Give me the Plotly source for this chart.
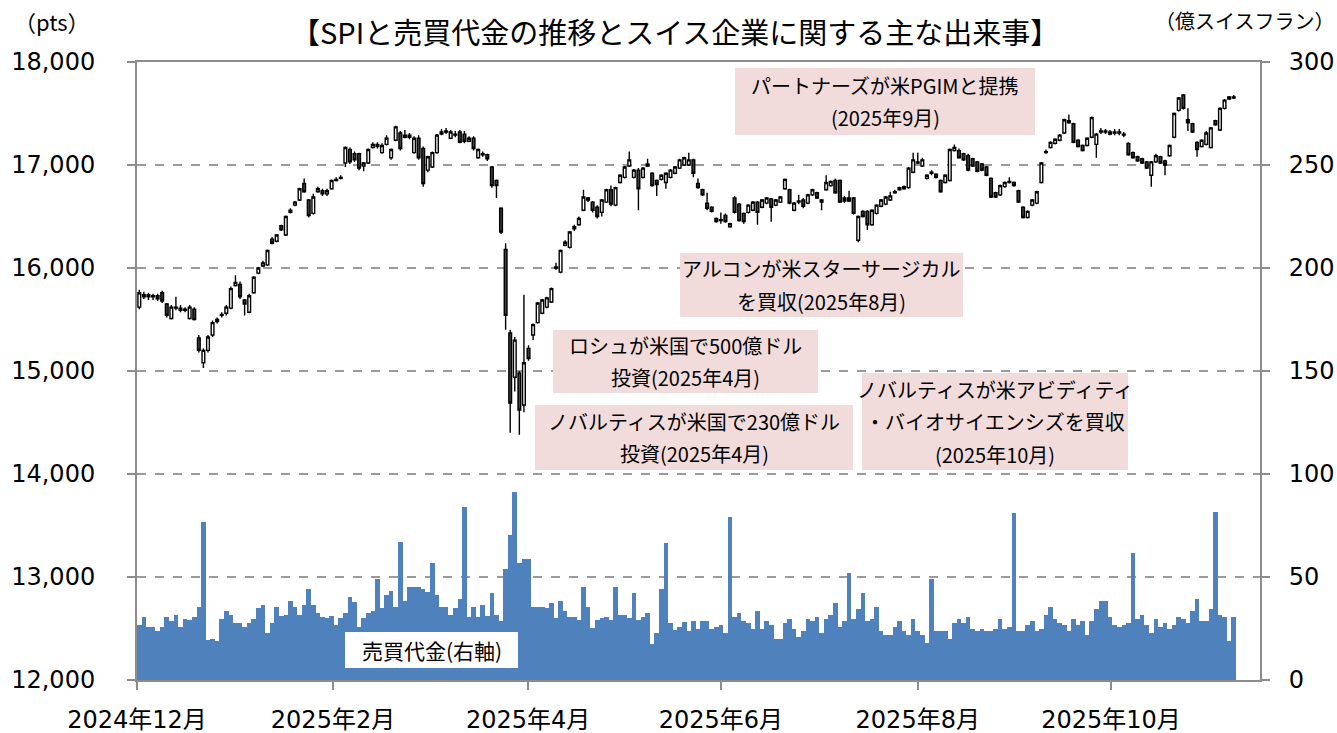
import plotly.graph_objects as go

# ---------------- data ----------------
opens = [
    15620,15720,15740,15720,15730,15760,15650,15510,15610,15610,
    15590,15510,15600,15320,15080,15200,15350,15480,15540,15560,
    15610,15830,15840,15690,15570,15760,15950,16020,16030,16280,
    16260,16410,16320,16540,16610,16660,16820,16660,16530,16740,
    16750,16720,16770,16850,16870,17020,17150,17110,17110,16990,
    17020,17170,17200,17120,17200,17070,17240,17310,17270,17290,
    17120,17260,17160,16950,16980,17120,17300,17320,17260,17300,
    17320,17300,17230,17260,17070,17110,17100,16980,16850,16580,
    16180,15370,14940,14980,14670,15220,15350,15470,15560,15620,
    15670,16000,15960,16220,16200,16380,16420,16560,16680,16640,
    16590,16540,16640,16760,16610,16830,16880,16990,16880,16950,
    16880,16990,16920,16850,16860,16830,16880,16920,16970,17000,
    17000,17050,16820,16760,16630,16590,16480,16470,16510,16400,
    16680,16620,16530,16540,16560,16640,16590,16630,16670,16610,
    16640,16770,16760,16560,16640,16660,16630,16710,16730,16660,
    16760,16800,16850,16850,16680,16680,16680,16270,16550,16550,
    16420,16530,16600,16620,16660,16730,16760,16770,16780,16930,
    17020,16990,16870,16920,16910,16850,16830,16850,17140,17140,
    17110,17090,17060,17030,17010,16980,16870,16730,16710,16790,
    16830,16830,16750,16590,16490,16610,16630,16830,17120,17170,
    17210,17240,17310,17410,17400,17240,17190,17190,17270,17200,
    17320,17330,17300,17320,17310,17300,17210,17120,17080,17060,
    17030,16900,17030,17080,17040,17090,17270,17530,17680,17440,
    17400,17220,17180,17200,17170,17430,17340,17550,17640,17650,
]
highs = [
    15790,15770,15760,15750,15750,15780,15660,15640,15720,15640,
    15620,15640,15620,15350,15220,15350,15490,15520,15570,15640,
    15820,15930,15870,15700,15750,15920,16010,16070,16180,16300,
    16330,16420,16510,16580,16650,16780,16870,16670,16720,16790,
    16770,16770,16860,16880,16900,17180,17170,17130,17120,17030,
    17160,17220,17220,17210,17290,17160,17380,17330,17340,17310,
    17280,17290,17180,17090,17130,17300,17350,17360,17340,17330,
    17340,17330,17280,17280,17160,17130,17110,16990,16860,16590,
    16240,15400,15330,15000,15740,15250,15460,15670,15700,15720,
    15810,16050,16180,16270,16360,16420,16500,16760,16690,16650,
    16610,16670,16770,16800,16790,16910,16990,17130,16960,16970,
    16980,17060,16930,16860,16910,16930,16960,16990,17060,17080,
    17120,17060,16870,16770,16730,16600,16490,16540,16530,16440,
    16700,16630,16540,16620,16650,16650,16670,16690,16680,16670,
    16700,16870,16770,16640,16710,16680,16720,16770,16740,16670,
    16900,16850,16870,16860,16700,16750,16690,16510,16560,16560,
    16570,16620,16670,16700,16740,16760,16790,16800,16980,17120,
    17120,17070,16910,16950,16920,16860,16910,17160,17200,17160,
    17120,17110,17070,17040,17020,16990,16880,16740,16810,16840,
    16880,16840,16760,16600,16560,16670,16750,17030,17150,17230,
    17260,17300,17450,17490,17410,17250,17200,17270,17470,17310,
    17360,17350,17340,17350,17350,17320,17220,17130,17090,17070,
    17040,17040,17110,17090,17050,17200,17510,17660,17690,17550,
    17410,17230,17250,17330,17370,17440,17560,17640,17670,17680,
]
lows = [
    15600,15700,15690,15690,15680,15660,15520,15500,15590,15570,
    15570,15500,15490,15180,15030,15180,15330,15460,15520,15540,
    15600,15820,15700,15540,15560,15750,15940,16010,16020,16230,
    16250,16360,16310,16530,16600,16650,16730,16490,16520,16730,
    16700,16700,16760,16840,16860,16980,17010,17030,16950,16940,
    17010,17160,17160,17110,17190,17050,17230,17140,17260,17250,
    17110,17050,16790,16930,16970,17110,17290,17300,17250,17270,
    17210,17210,17220,17140,17060,17080,17040,16780,16680,16330,
    15400,14400,14800,14380,14600,15100,15300,15460,15550,15610,
    15660,15980,15950,16210,16190,16360,16410,16550,16640,16540,
    16480,16500,16630,16600,16600,16820,16870,16980,16870,16560,
    16870,16980,16790,16700,16850,16770,16870,16910,16960,16990,
    16990,16880,16770,16700,16560,16540,16440,16430,16440,16390,
    16530,16450,16430,16530,16550,16420,16580,16620,16450,16600,
    16630,16760,16620,16550,16620,16580,16620,16700,16670,16560,
    16750,16790,16720,16630,16630,16640,16520,16250,16490,16370,
    16410,16520,16590,16610,16650,16720,16750,16760,16770,16920,
    17010,16980,16860,16900,16870,16730,16820,16840,17130,17060,
    17040,16940,16980,16930,16940,16890,16680,16680,16700,16780,
    16820,16790,16630,16480,16480,16600,16620,16820,17110,17160,
    17200,17230,17300,17400,17210,17170,17130,17180,17260,17070,
    17300,17300,17290,17290,17290,17270,17090,17060,17030,17010,
    16960,16790,17020,17010,16900,17080,17260,17520,17540,17330,
    17310,17080,17170,17190,17160,17380,17330,17540,17630,17640,
]
closes = [
    15760,15740,15720,15730,15700,15680,15540,15620,15620,15590,
    15600,15620,15500,15200,15200,15330,15470,15500,15550,15620,
    15800,15860,15720,15650,15730,15910,16000,16050,16170,16240,
    16320,16370,16500,16560,16640,16770,16740,16510,16690,16770,
    16720,16750,16850,16860,16880,17170,17030,17050,16970,17020,
    17150,17200,17180,17190,17260,17150,17370,17160,17290,17270,
    17260,17070,16820,17080,17120,17290,17320,17330,17320,17290,
    17220,17230,17260,17160,17150,17100,17060,16800,16800,16350,
    15540,14690,15300,14620,15080,15120,15450,15660,15690,15710,
    15800,16010,16170,16250,16350,16400,16480,16690,16660,16560,
    16500,16660,16760,16620,16780,16900,16980,17050,16950,16770,
    16970,17010,16800,16810,16900,16920,16950,16980,17050,17070,
    17050,16920,16780,16710,16580,16550,16450,16460,16450,16430,
    16540,16460,16450,16610,16640,16540,16660,16680,16590,16660,
    16690,16860,16630,16630,16650,16600,16710,16760,16680,16640,
    16830,16840,16730,16640,16650,16650,16530,16500,16500,16420,
    16560,16610,16660,16690,16700,16740,16780,16790,16970,17050,
    17030,17050,16900,16930,16880,16740,16900,17150,17170,17070,
    17050,16950,16990,16940,16950,16900,16690,16690,16800,16830,
    16840,16800,16640,16490,16550,16660,16740,17020,17130,17220,
    17250,17290,17440,17430,17220,17180,17140,17260,17460,17300,
    17330,17320,17320,17310,17320,17290,17100,17070,17040,17020,
    16970,17030,17090,17020,17000,17190,17500,17650,17550,17410,
    17320,17150,17240,17310,17360,17390,17550,17630,17660,17660,
]
volumes = [  # 売買代金 (億スイスフラン)
    26.7,30.7,25.9,25.9,24.0,25.9,30.7,28.8,31.6,25.9,
    29.5,29.1,30.7,35.6,76.9,19.4,19.7,19.1,29.5,33.5,
    31.6,27.5,27.5,25.9,27.5,29.5,34.8,36.4,22.7,27.5,
    35.6,31.1,31.6,38.5,35.6,31.6,36.4,44.2,36.4,32.4,
    30.7,30.0,31.1,26.7,30.0,32.7,40.1,38.0,25.9,30.0,
    32.7,33.7,48.9,34.8,41.3,43.2,35.3,67.2,38.4,45.0,
    45.0,45.0,44.0,42.9,56.6,41.3,35.6,35.6,31.6,34.8,
    39.2,83.8,30.7,35.3,30.7,36.4,31.1,42.1,31.6,28.8,
    53.7,70.4,91.4,56.6,58.6,58.6,35.6,35.3,35.3,35.0,
    37.2,30.0,38.4,33.5,30.7,30.7,29.1,45.0,35.6,25.1,
    29.1,30.0,30.7,29.1,45.0,31.6,31.6,30.0,42.1,29.1,
    30.7,32.7,17.3,23.0,44.2,66.4,27.5,24.3,25.9,28.3,
    24.0,28.6,24.8,28.6,28.6,24.8,25.9,26.7,23.0,79.0,
    30.7,32.4,28.6,27.5,24.8,33.5,24.8,28.6,26.7,19.9,
    19.9,27.5,29.6,24.8,21.1,24.0,29.6,28.6,30.6,23.0,
    29.6,31.6,37.2,25.9,28.6,51.8,29.6,34.5,42.1,28.6,
    29.6,35.3,23.8,21.9,21.9,25.9,28.6,23.8,21.9,29.6,
    23.8,21.9,18.1,48.9,23.8,23.8,23.8,19.9,27.8,29.6,
    27.8,30.6,24.8,23.8,24.8,23.8,23.8,24.8,29.6,24.8,
    25.9,80.9,23.8,23.8,26.7,28.6,23.8,24.8,31.6,35.3,
    29.6,27.5,26.7,23.8,29.6,26.7,28.6,21.9,28.6,34.5,
    38.4,38.4,30.6,26.7,25.9,26.7,27.5,61.5,29.6,31.6,
    26.7,23.0,29.6,25.9,27.5,24.8,26.7,30.6,29.6,27.5,
    33.5,39.3,28.6,28.6,34.5,81.7,31.6,30.6,18.9,30.6,
]
tick_labels = ["2024年12月", "2025年2月", "2025年4月", "2025年6月", "2025年8月", "2025年10月"]
tick_positions = [-0.5, 42.3, 84.9, 127.0, 170.0, 212.2]

title_text = "【SPIと売買代金の推移とスイス企業に関する主な出来事】"
event_lines = [
    ["パートナーズが米PGIMと提携", "(2025年9月)"],
    ["アルコンが米スターサージカル", "を買収(2025年8月)"],
    ["ロシュが米国で500億ドル", "投資(2025年4月)"],
    ["ノバルティスが米国で230億ドル", "投資(2025年4月)"],
    ["ノバルティスが米アビディティ", "・バイオサイエンシズを買収", "(2025年10月)"],
]
volume_label = "売買代金(右軸)"

# ---------------- figure ----------------
n = len(closes)
x = list(range(n))

JP = "Noto Sans CJK JP"
NUM = "DejaVu Sans, Noto Sans CJK JP"
AX = "#8c8c8c"

fig = go.Figure()
fig.add_trace(go.Bar(
    x=x, y=volumes, yaxis="y",
    marker=dict(color="#4F81BD", line=dict(width=0)),
    showlegend=False, hoverinfo="skip",
))
fig.add_trace(go.Candlestick(
    x=x, open=opens, high=highs, low=lows, close=closes, yaxis="y2",
    increasing=dict(line=dict(color="#000000", width=1.4), fillcolor="#ffffff"),
    decreasing=dict(line=dict(color="#000000", width=1.4), fillcolor="#404040"),
    whiskerwidth=0, showlegend=False,
))

L, R, T, B = 137, 1260, 62, 680
PW, PH = R - L, B - T


def px(xp):
    return (xp - L) / PW


def py(yp):
    return (B - yp) / PH


annotations = [
    dict(text=title_text, x=px(675), y=py(31), xanchor="center",
         font=dict(family=JP, size=29, color="black")),
    dict(text="（pts）", x=px(52), y=py(21), xanchor="center",
         font=dict(family=JP, size=22, color="black")),
    dict(text="（億スイスフラン）", x=px(1336), y=py(21), xanchor="right",
         font=dict(family=JP, size=20, color="black")),
]
shapes = []
# (x0, y0, x1, y1) of each pink box in pixels
event_boxes = [
    (735, 68, 1035, 135),
    (680, 253, 963, 317),
    (553, 330, 818, 393),
    (535, 405, 853, 470),
    (862, 373, 1128, 470),
]
LINE_H = 32.5
for lines, (x0, y0, x1, y1) in zip(event_lines, event_boxes):
    shapes.append(dict(type="rect", xref="paper", yref="paper",
                       x0=px(x0), x1=px(x1), y0=py(y1), y1=py(y0),
                       fillcolor="#F2DCDB", line=dict(width=0), layer="above"))
    cy = (y0 + y1) / 2
    k = len(lines)
    for j, ln in enumerate(lines):
        yy = cy + (j - (k - 1) / 2) * LINE_H
        annotations.append(dict(text=ln, x=px((x0 + x1) / 2), y=py(yy), xanchor="center",
                                font=dict(family=JP, size=20, color="black")))
shapes.append(dict(type="rect", xref="paper", yref="paper",
                   x0=px(345), x1=px(518), y0=py(668), y1=py(632),
                   fillcolor="#ffffff", line=dict(width=0), layer="above"))
annotations.append(dict(text=volume_label, x=px(431.5), y=py(650), xanchor="center",
                        font=dict(family=JP, size=21, color="black")))
for a in annotations:
    a.update(xref="paper", yref="paper", showarrow=False, yanchor="middle")

slot = (1236 - L) / n
fig.update_layout(
    width=1337, height=733,
    margin=dict(l=L, r=1337 - R, t=T, b=733 - B, pad=0, autoexpand=False),
    paper_bgcolor="white", plot_bgcolor="white",
    showlegend=False, bargap=0, boxgap=0.15,
    font=dict(family=NUM, size=24, color="black"),
    xaxis=dict(
        range=[-0.5, -0.5 + PW / slot],
        tickmode="array", tickvals=tick_positions, ticktext=tick_labels,
        ticks="outside", ticklen=8, tickwidth=2, tickcolor=AX,
        showline=True, linecolor=AX, linewidth=2, mirror=True,
        showgrid=False, zeroline=False, rangeslider=dict(visible=False),
        ticklabelstandoff=9, tickfont=dict(family=NUM, size=24), automargin=False,
    ),
    yaxis=dict(
        side="right", range=[0, 300], tickmode="linear", tick0=0, dtick=50,
        showgrid=True, gridcolor="#9a9a9a", griddash="dash", gridwidth=2,
        showline=True, linecolor=AX, linewidth=2,
        ticks="outside", ticklen=8, tickwidth=2, tickcolor=AX,
        zeroline=False, ticklabelstandoff=14, tickfont=dict(family=NUM, size=24),
        automargin=False,
    ),
    yaxis2=dict(
        overlaying="y", side="left", range=[12000, 18000], tickmode="linear",
        tick0=12000, dtick=1000, tickformat=",d",
        showgrid=False, showline=True, linecolor=AX, linewidth=2,
        ticks="outside", ticklen=8, tickwidth=2, tickcolor=AX,
        zeroline=False, ticklabelstandoff=27, tickfont=dict(family=NUM, size=24),
        automargin=False,
    ),
    annotations=annotations,
    shapes=shapes,
)

fig.write_html("out.html", config={"displayModeBar": False},
               post_script="document.body.style.margin='0';")
